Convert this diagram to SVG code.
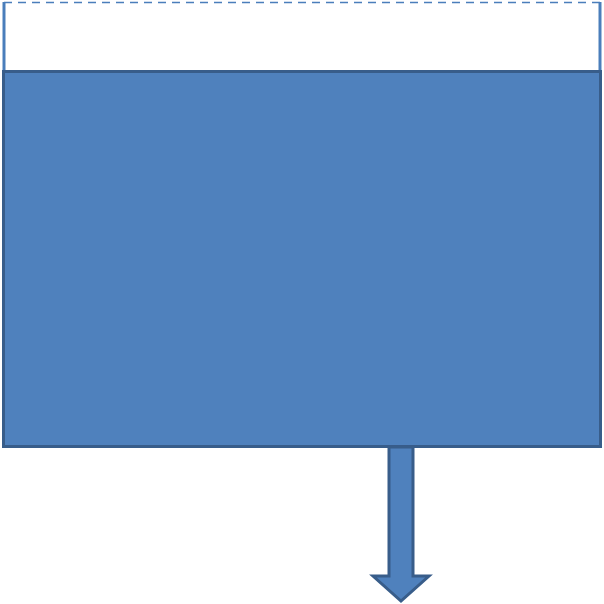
<svg xmlns="http://www.w3.org/2000/svg" width="604" height="604" viewBox="0 0 604 604">
<style>
.shape{fill:#4F81BD;stroke:#385D8A;stroke-width:3}
.edge{fill:none;stroke:#4A7EBB;stroke-width:3}
</style>
<rect width="604" height="604" fill="#FFFFFF"/>
<g id="container">
<line class="edge" x1="4" y1="2" x2="4" y2="72"/>
<line class="edge" x1="600" y1="2" x2="600" y2="72"/>
<line x1="4" y1="2.5" x2="600" y2="2.5" stroke="#4A7EBB" stroke-width="1.5" stroke-dasharray="8,6"/>
</g>
<g id="block">
<rect class="shape" x="3.5" y="71.5" width="597" height="375"/>
</g>
<g id="connectors">
<path class="shape" d="M389,447 L413,447 L413,576 L429,576 L401,601 L373,576 L389,576 Z" stroke-linejoin="miter"/>
</g>
</svg>
